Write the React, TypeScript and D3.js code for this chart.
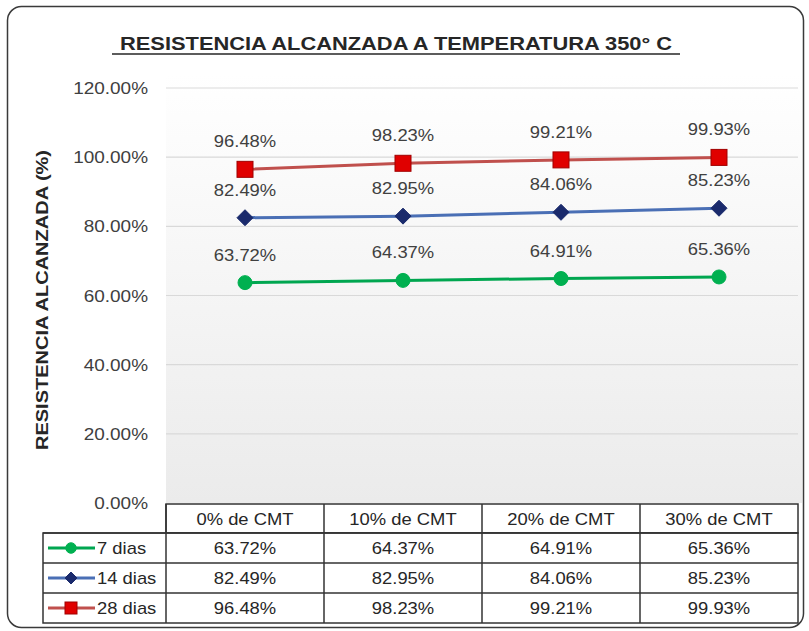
import React from 'react';
import * as d3 from 'd3';

// chart values
const categories = ['0% de CMT', '10% de CMT', '20% de CMT', '30% de CMT'];
const dias7 = [63.72, 64.37, 64.91, 65.36];
const dias14 = [82.49, 82.95, 84.06, 85.23];
const dias28 = [96.48, 98.23, 99.21, 99.93];
const seriesNames = ['7 dias', '14 dias', '28 dias'];
const yTicks = [0, 20, 40, 60, 80, 100, 120];

const W = 809, H = 631;
const SX = 1.15; // source image text is a bit wide
const FONT = "Arial, 'Liberation Sans', sans-serif";

const plotLeft = 166, plotRight = 798, plotTop = 88, plotBottom = 503;
const tableTop = 504, headerH = 29, rowH = 30, legendLeft = 43;

const series = [
  { name: seriesNames[0], values: dias7, line: '#00a650', fill: '#00b050', marker: 'circle' },
  { name: seriesNames[1], values: dias14, line: '#4a6fb5', fill: '#1a2a6c', marker: 'diamond' },
  { name: seriesNames[2], values: dias28, line: '#c0504d', fill: '#e00000', marker: 'square' },
];

function Txt(props) {
  const { x, y, children, anchor = 'middle', size = 16, weight = 'normal', fill = '#333' } = props;
  return (
    <g transform={`translate(${x},${y}) scale(${SX},1)`}>
      <text textAnchor={anchor} fontSize={size} fontWeight={weight} fill={fill} fontFamily={FONT}>
        {children}
      </text>
    </g>
  );
}

function Marker({ kind, x, y, fill, stroke, size = 1 }) {
  if (kind === 'circle') return <circle cx={x} cy={y} r={7 * size} fill={fill} stroke={stroke} strokeWidth={1} />;
  if (kind === 'diamond') {
    const s = 8 * size;
    return <path d={`M${x},${y - s}L${x + s},${y}L${x},${y + s}L${x - s},${y}Z`} fill={fill} stroke={stroke} strokeWidth={1} />;
  }
  const s = 8 * size;
  return <rect x={x - s} y={y - s} width={2 * s} height={2 * s} fill={fill} stroke="#a00000" strokeWidth={1} />;
}

export default function App() {
  const x = d3.scaleBand().domain(categories).range([plotLeft, plotRight]);
  const y = d3.scaleLinear().domain([0, 120]).range([plotBottom, plotTop]);
  const cx = (c) => x(c) + x.bandwidth() / 2;
  const line = d3.line().x((d, i) => cx(categories[i])).y((d) => y(d));

  const rowsTop = tableTop + headerH;
  const tableBottom = rowsTop + rowH * series.length;

  return (
    <svg width={W} height={H} style={{ position: 'absolute', left: 0, top: 0, background: '#fff' }}>
      <defs>
        <linearGradient id="plotBg" x1="0" y1="0" x2="0" y2="1">
          <stop offset="0" stopColor="#ffffff" />
          <stop offset="1" stopColor="#ebebeb" />
        </linearGradient>
      </defs>

      {/* frame */}
      <rect x={7.5} y={6.5} width={796} height={621} rx={14} fill="#fff" stroke="#3a3a3a" strokeWidth={1.5} />

      {/* title */}
      <Txt x={396} y={50} size={19} weight="bold" fill="#262626">RESISTENCIA  ALCANZADA  A TEMPERATURA  350° C</Txt>
      <line x1={112} x2={680} y1={54} y2={54} stroke="#262626" strokeWidth={1.5} />

      {/* plot area */}
      <rect x={plotLeft} y={plotTop - 14} width={plotRight - plotLeft + 4} height={plotBottom - plotTop + 14} fill="url(#plotBg)" />
      {yTicks.map((t) => (
        <g key={t}>
          {t > 0 && <line x1={plotLeft} x2={plotRight} y1={y(t)} y2={y(t)} stroke="#d9d9d9" strokeWidth={1.2} />}
          <Txt x={148} y={y(t) + 6} anchor="end" size={16.5} fill="#404040">{d3.format('.2f')(t) + '%'}</Txt>
        </g>
      ))}

      {/* y axis title */}
      <g transform={`translate(48,300) rotate(-90)`}>
        <text textAnchor="middle" fontSize={16} fontWeight="bold" fill="#262626" fontFamily={FONT}
          textLength={300} lengthAdjust="spacingAndGlyphs">RESISTENCIA ALCANZADA  (%)</text>
      </g>

      {/* series */}
      {series.map((s) => (
        <g key={s.name}>
          <path d={line(s.values)} fill="none" stroke={s.line} strokeWidth={3} />
          {s.values.map((v, i) => (
            <Marker key={i} kind={s.marker} x={cx(categories[i])} y={y(v)} fill={s.fill} stroke={s.fill} />
          ))}
          {s.values.map((v, i) => (
            <Txt key={'l' + i} x={cx(categories[i])} y={y(v) - 22} size={16} fill="#404040">{v.toFixed(2) + '%'}</Txt>
          ))}
        </g>
      ))}

      {/* data table */}
      <g fill="none" stroke="#333" strokeWidth={1.5}>
        <rect x={plotLeft} y={tableTop} width={plotRight - plotLeft} height={headerH} fill="#fff" />
        <rect x={legendLeft} y={rowsTop} width={plotRight - legendLeft} height={rowH * series.length} fill="#fff" />
        {series.map((s, r) => (
          <line key={r} x1={legendLeft} x2={plotRight} y1={rowsTop + rowH * r} y2={rowsTop + rowH * r} />
        ))}
        {categories.map((c, i) => (
          <line key={c} x1={x(c)} x2={x(c)} y1={tableTop} y2={tableBottom} />
        ))}
      </g>
      {categories.map((c) => (
        <Txt key={c} x={cx(c)} y={tableTop + 21} size={16} fill="#262626">{c}</Txt>
      ))}
      {series.map((s, r) => {
        const ry = rowsTop + rowH * r + rowH / 2;
        return (
          <g key={s.name}>
            <line x1={48} x2={95} y1={ry} y2={ry} stroke={s.line} strokeWidth={3} />
            <Marker kind={s.marker} x={71} y={ry} fill={s.fill} stroke={s.fill} size={0.75} />
            <Txt x={97} y={ry + 6} anchor="start" size={16} fill="#262626">{s.name}</Txt>
            {s.values.map((v, i) => (
              <Txt key={i} x={cx(categories[i])} y={ry + 6} size={16} fill="#262626">{v.toFixed(2) + '%'}</Txt>
            ))}
          </g>
        );
      })}
    </svg>
  );
}
